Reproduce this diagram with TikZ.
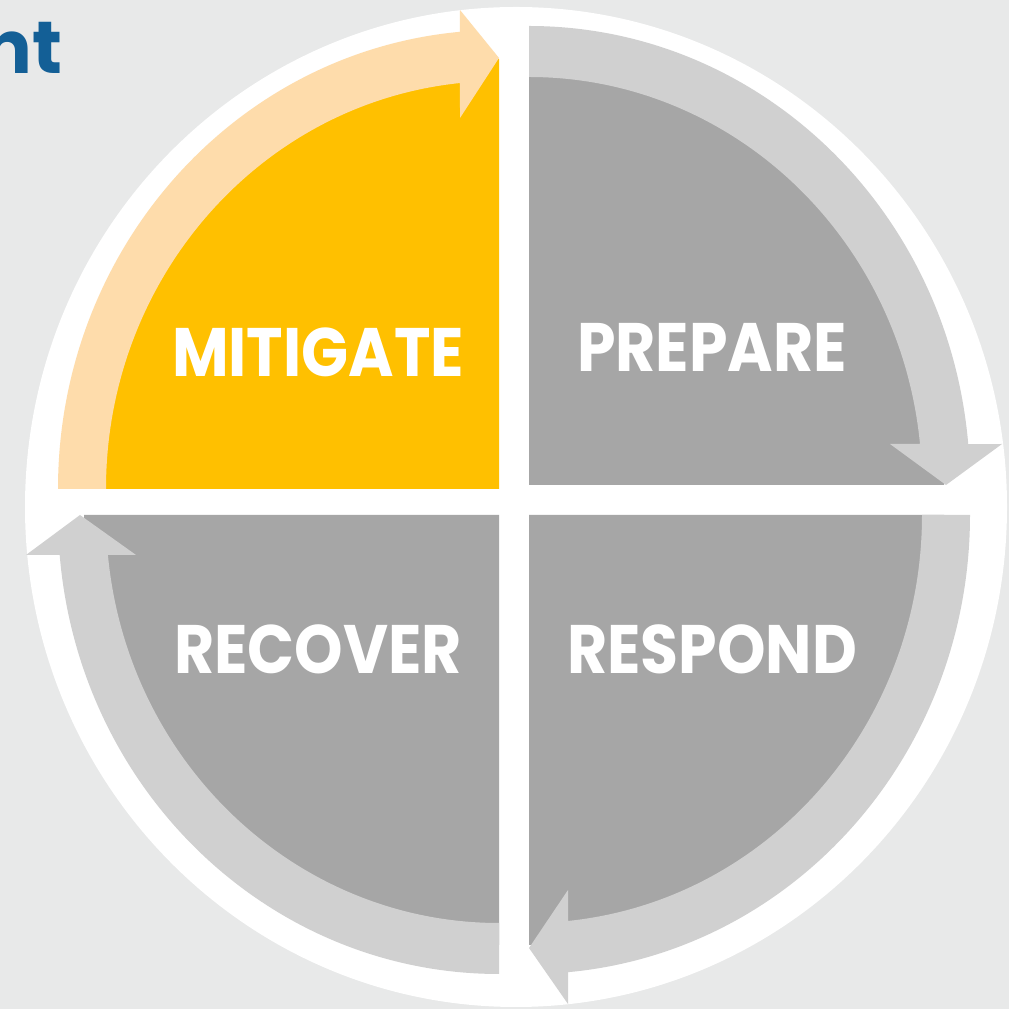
\documentclass[tikz,border=0pt]{standalone}
\usepackage{fontspec}
\usepackage{graphicx}
\setmainfont{Poppins}
\definecolor{bggray}{HTML}{E8E9E9}
\definecolor{gold}{HTML}{FFC000}
\definecolor{peach}{HTML}{FEDCAB}
\definecolor{midgray}{HTML}{A6A6A6}
\definecolor{lightgray}{HTML}{D0D0D0}
\definecolor{titleblue}{HTML}{135F96}
\newcommand{\stagename}[1]{\scalebox{0.9}[1]{#1}}
\begin{document}
\begin{tikzpicture}[x=0.01cm,y=0.01cm,
    pie/.style={fill=#1},
    band/.style={fill=#1},
    stage/.style={text=white,inner sep=0,font=\bfseries\fontsize{19.5}{20}\selectfont}]
    \useasboundingbox (0,0) rectangle (1009,1009);
    \fill[bggray] (0,0) rectangle (1009,1009);
    \node[anchor=base east,inner sep=0,text=titleblue,font=\bfseries\fontsize{21}{22}\selectfont] (title) at (63,935) {nt};
    \fill[white] (516,502) ellipse [x radius=491,y radius=500];
    % quadrant corners
    \coordinate (tl) at (499,520);
    \coordinate (tr) at (529,524);
    \coordinate (br) at (529,494);
    \coordinate (bl) at (499,494);
    % quarter pies
    \fill[pie=gold] (tl) -- ++(180:415 and 430) arc[start angle=180,end angle=90,x radius=415,y radius=430] -- cycle;
    \fill[pie=midgray] (tr) -- ++(90:415 and 430) arc[start angle=90,end angle=0,x radius=415,y radius=430] -- cycle;
    \fill[pie=midgray] (br) -- ++(0:415 and 430) arc[start angle=0,end angle=-90,x radius=415,y radius=430] -- cycle;
    \fill[pie=midgray] (bl) -- ++(270:415 and 430) arc[start angle=270,end angle=180,x radius=415,y radius=430] -- cycle;
    % cycle arrows
    \fill[band=peach] (tl) ++(180:441 and 459) arc[start angle=180,end angle=95.1,x radius=441,y radius=459]
        -- (460,999) -- (499,951) -- (460,891) -- ([shift={(95.7:393 and 408)}]tl)
        arc[start angle=95.7,end angle=180,x radius=393,y radius=408] -- cycle;
    \fill[band=lightgray] (tr) ++(90:441 and 459) arc[start angle=90,end angle=5.1,x radius=441,y radius=459]
        -- (1002,565) -- (946,524) -- (890,565) -- ([shift={(5.8:393 and 408)}]tr)
        arc[start angle=5.8,end angle=90,x radius=393,y radius=408] -- cycle;
    \fill[band=lightgray] (br) ++(0:441 and 459) arc[start angle=0,end angle=-84.9,x radius=441,y radius=459]
        -- (568,5) -- (529,61) -- (568,119) -- ([shift={(-84.3:393 and 408)}]br)
        arc[start angle=-84.3,end angle=0,x radius=393,y radius=408] -- cycle;
    \fill[band=lightgray] (bl) ++(270:441 and 459) arc[start angle=270,end angle=185,x radius=441,y radius=459]
        -- (26,454) -- (80,494) -- (136,454) -- ([shift={(185.6:393 and 408)}]bl)
        arc[start angle=185.6,end angle=270,x radius=393,y radius=408] -- cycle;
    % stage labels
    \node[stage] (mitigate) at (318,657) {\stagename{MITIGATE}};
    \node[stage] (prepare) at (712,662) {\stagename{PREPARE}};
    \node[stage] (recover) at (318,360) {\stagename{RECOVER}};
    \node[stage] (respond) at (712,360) {\stagename{RESPOND}};
\end{tikzpicture}
\end{document}
